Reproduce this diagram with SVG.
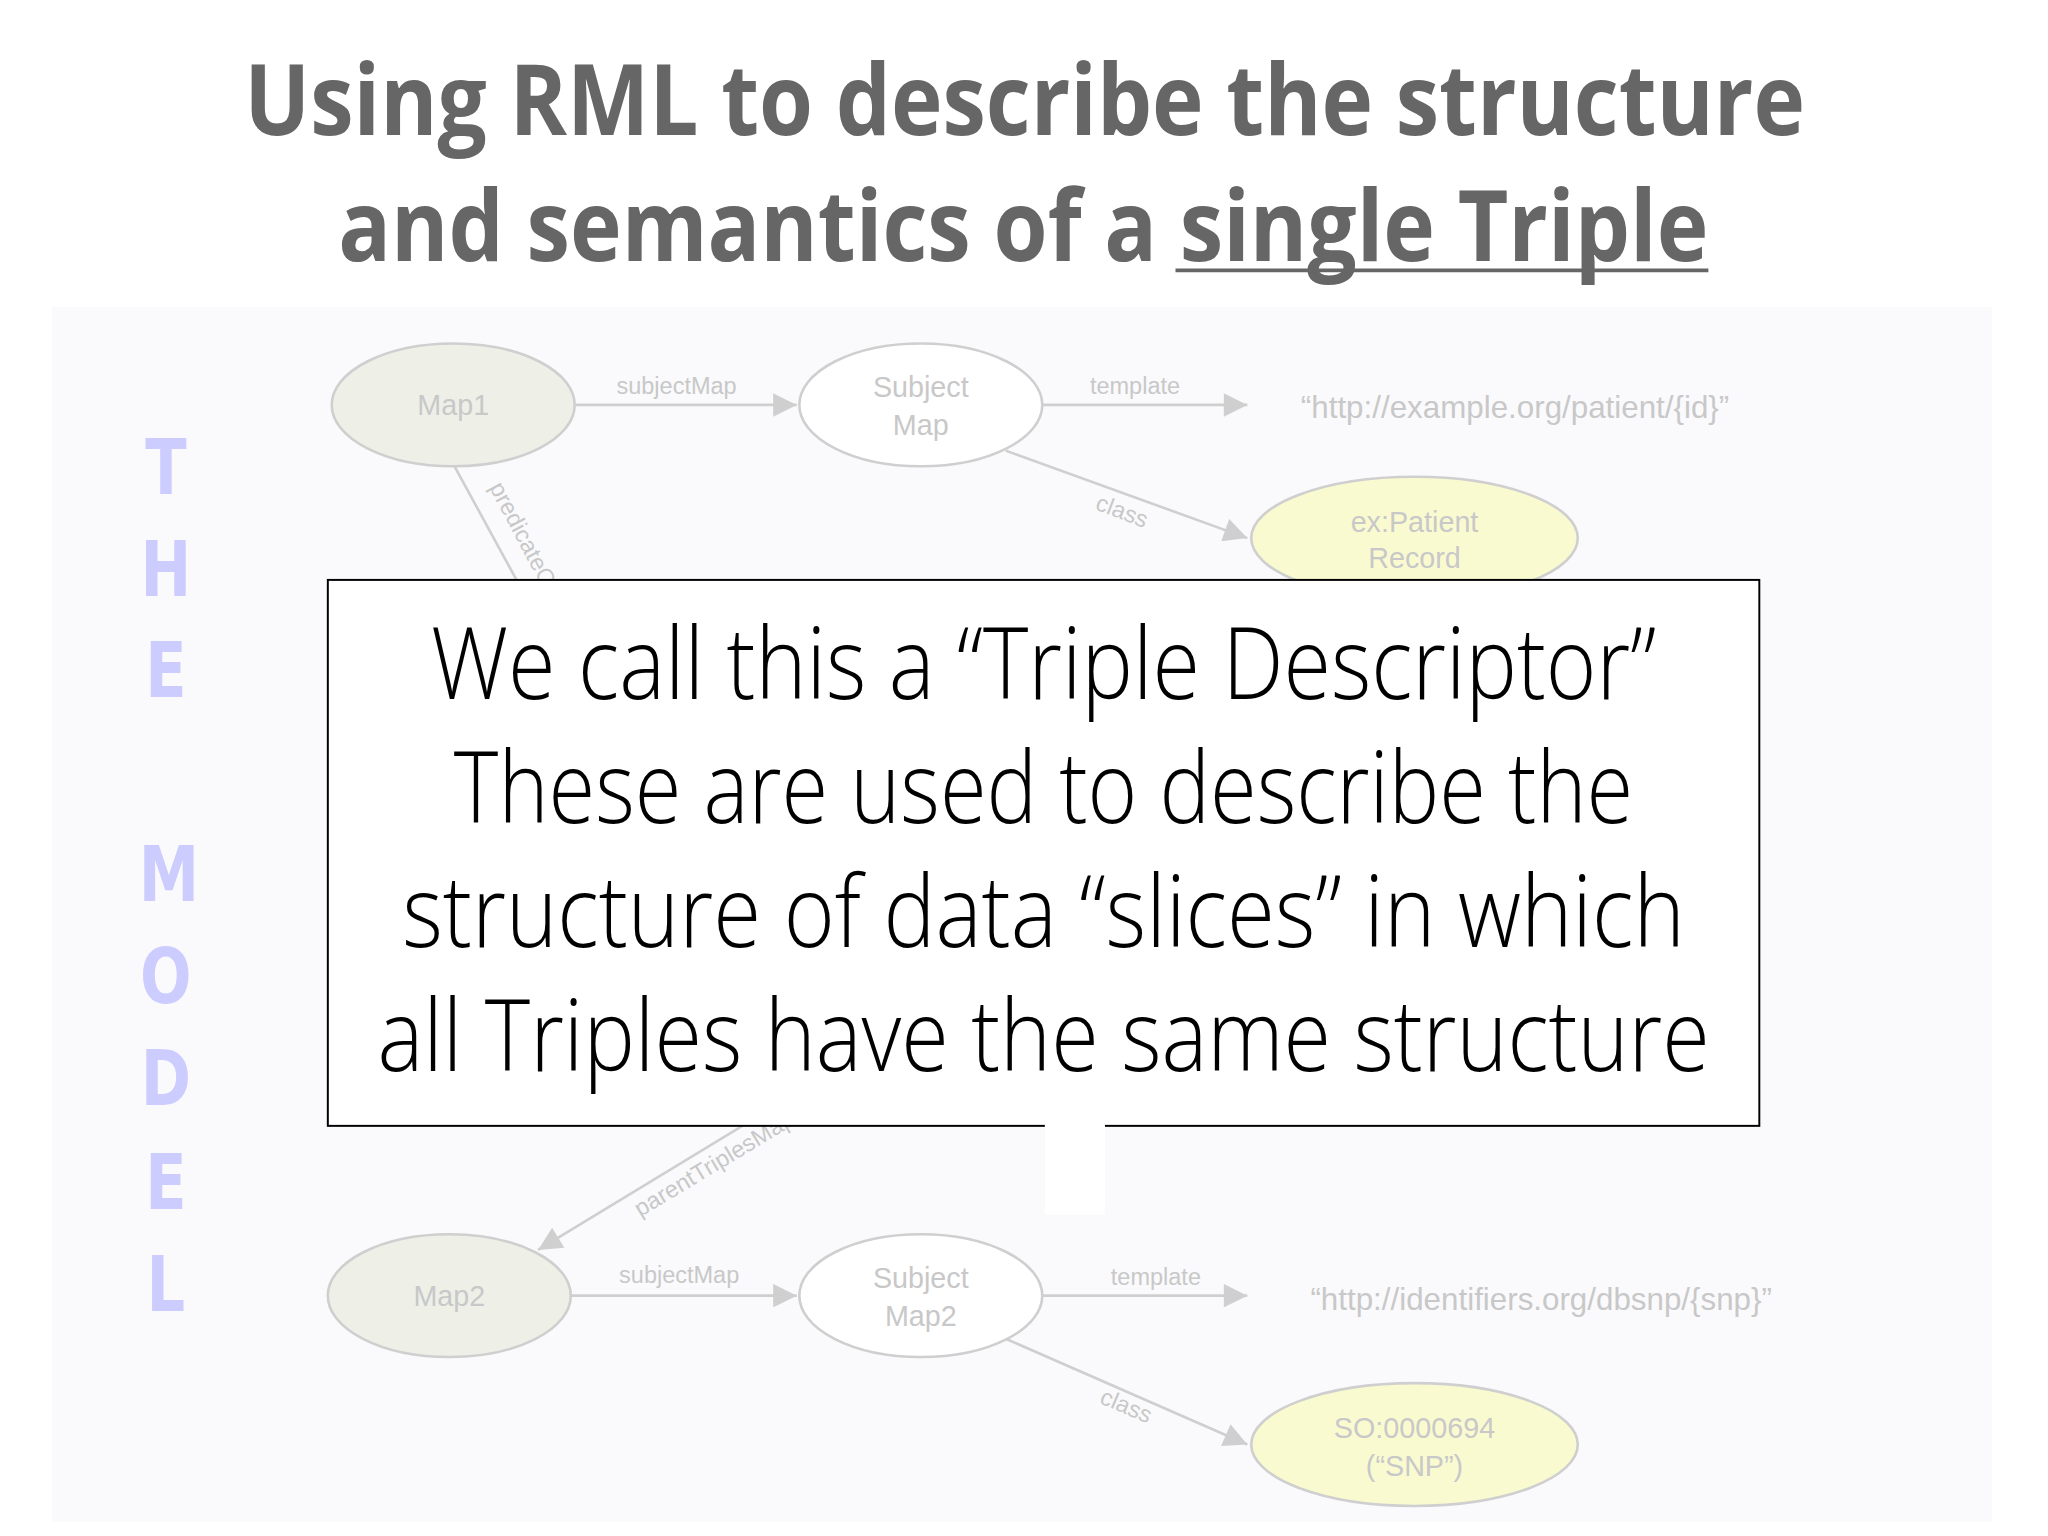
<svg xmlns="http://www.w3.org/2000/svg" width="2048" height="1536" viewBox="0 0 2048 1536">
<style>
.t{font-family:"Open Sans","Liberation Sans",sans-serif;font-weight:700;fill:#666;font-size:76px}
.m{font-family:"DejaVu Sans","Liberation Sans",sans-serif;font-weight:700;fill:#ccccff;font-size:58px;text-anchor:middle}
.n{font-family:"Liberation Sans",Arial,sans-serif;fill:#c8c8c8;font-size:22px;text-anchor:middle}
.u{font-family:"Liberation Sans",Arial,sans-serif;fill:#c8c8c8;font-size:24px;text-anchor:middle}
.l{font-family:"Liberation Sans",Arial,sans-serif;fill:#c8c8c8;font-size:18px;text-anchor:middle}
.e{stroke:#cfcfcf;stroke-width:2}
.c{stroke:#cfcfcf;stroke-width:2;fill:none}
.b{font-family:"Open Sans","Liberation Sans",sans-serif;font-weight:300;fill:#000;font-size:76px;text-anchor:middle}
</style>
<defs><marker id="a" viewBox="0 0 10 10" refX="10" refY="5" markerWidth="20" markerHeight="18" markerUnits="userSpaceOnUse" orient="auto"><path d="M0,0L10,5L0,10z" fill="#cfcfcf"/></marker></defs>
<rect width="2048" height="1536" fill="#fff"/>
<g transform="scale(1.3061)">
<text class="t" x="187" y="103" textLength="1195" lengthAdjust="spacingAndGlyphs">Using RML to describe the structure</text>
<text class="t" x="259" y="200" textLength="1049" lengthAdjust="spacingAndGlyphs">and semantics of a single Triple</text>
<line x1="900" y1="207" x2="1308" y2="207" stroke="#666" stroke-width="3"/>
<rect x="40" y="235" width="1485" height="930" fill="#fafafc"/>
<g id="model" transform="translate(127,0) scale(0.8,1) translate(-127,0)">
<text class="m" x="127" y="378">T</text><text class="m" x="127" y="456">H</text><text class="m" x="127" y="534">E</text>
<text class="m" x="130" y="690">M</text><text class="m" x="127" y="768">O</text><text class="m" x="127" y="846">D</text><text class="m" x="127" y="926">E</text><text class="m" x="127" y="1004">L</text>
</g>
<g id="connectors">
<line class="c" x1="441" y1="310" x2="610" y2="310" marker-end="url(#a)"/>
<text class="l" x="518" y="302">subjectMap</text>
<line class="c" x1="798" y1="310" x2="955" y2="310" marker-end="url(#a)"/>
<text class="l" x="869" y="302">template</text>
<line class="c" x1="770" y1="345" x2="955" y2="412" marker-end="url(#a)"/>
<text class="l" transform="translate(857,397) rotate(21)">class</text>
<line class="c" x1="348" y1="357" x2="402" y2="456"/>
<text class="l" transform="translate(395,412) rotate(62)">predicateO</text>
<line class="c" x1="608" y1="838" x2="412" y2="957" marker-end="url(#a)"/>
<text class="l" transform="translate(550,896) rotate(-31)">parentTriplesMap</text>
<line class="c" x1="438" y1="992" x2="610" y2="992" marker-end="url(#a)"/>
<text class="l" x="520" y="982">subjectMap</text>
<line class="c" x1="798" y1="992" x2="955" y2="992" marker-end="url(#a)"/>
<text class="l" x="885" y="984">template</text>
<line class="c" x1="770" y1="1025" x2="955" y2="1106" marker-end="url(#a)"/>
<text class="l" transform="translate(860,1082) rotate(23)">class</text>
</g>
<g id="map1"><ellipse class="e" cx="347" cy="310" rx="93" ry="47" fill="#eef0e8"/><text class="n" x="347" y="318">Map1</text></g>
<g id="subjectmap"><ellipse class="e" cx="705" cy="310" rx="93" ry="47" fill="#fff"/><text class="n" x="705" y="304">Subject</text><text class="n" x="705" y="333">Map</text></g>
<g id="uri1"><text class="u" x="1160" y="320">“http://example.org/patient/{id}”</text></g>
<g id="patient"><ellipse class="e" cx="1083" cy="412" rx="125" ry="47" fill="#fafad0"/><text class="n" x="1083" y="407">ex:Patient</text><text class="n" x="1083" y="435">Record</text></g>
<g id="map2"><ellipse class="e" cx="344" cy="992" rx="93" ry="47" fill="#eef0e8"/><text class="n" x="344" y="1000">Map2</text></g>
<g id="subjectmap2"><ellipse class="e" cx="705" cy="992" rx="93" ry="47" fill="#fff"/><text class="n" x="705" y="986">Subject</text><text class="n" x="705" y="1015">Map2</text></g>
<g id="uri2"><text class="u" x="1180" y="1003">“http://identifiers.org/dbsnp/{snp}”</text></g>
<g id="snp"><ellipse class="e" cx="1083" cy="1106" rx="125" ry="47" fill="#fafad0"/><text class="n" x="1083" y="1101">SO:0000694</text><text class="n" x="1083" y="1130">(“SNP”)</text></g>
<g id="callout">
<rect x="251" y="444" width="1096" height="418" fill="#fff" stroke="#000" stroke-width="1.5"/>
<rect x="800" y="850" width="46" height="80" fill="#fff"/>
<text class="b" x="799" y="535" textLength="938" lengthAdjust="spacingAndGlyphs">We call this a “Triple Descriptor”</text>
<text class="b" x="799" y="630" textLength="903" lengthAdjust="spacingAndGlyphs">These are used to describe the</text>
<text class="b" x="799" y="725" textLength="982" lengthAdjust="spacingAndGlyphs">structure of data “slices” in which</text>
<text class="b" x="799" y="820" textLength="1020" lengthAdjust="spacingAndGlyphs">all Triples have the same structure</text>
</g>
</g>
</svg>
